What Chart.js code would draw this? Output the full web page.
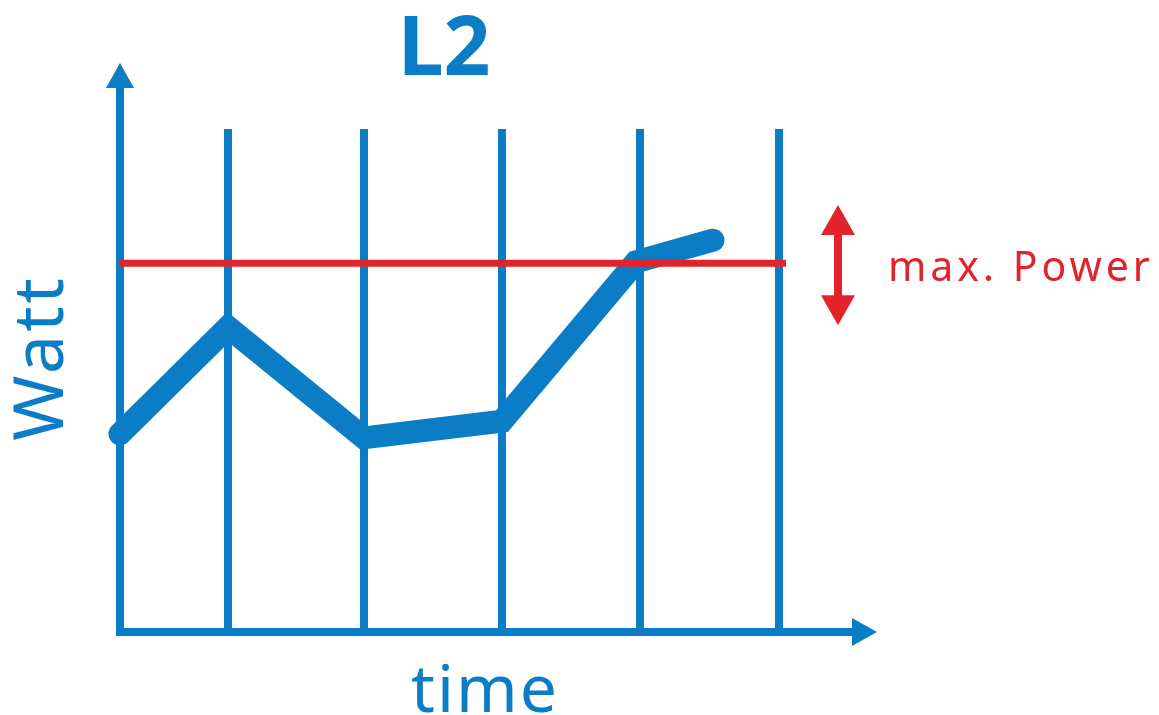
<!DOCTYPE html>
<html>
<head>
<meta charset="utf-8">
<script src="https://cdn.jsdelivr.net/npm/chart.js@4.4.1/dist/chart.umd.min.js"></script>
<style>
  html, body { margin: 0; padding: 0; background: #fff; }
</style>
</head>
<body>
<canvas id="chart" width="1159" height="715"></canvas>
<script>
const titleText = 'L2';
const xAxisLabel = 'time';
const yAxisLabel = 'Watt';
const limitLabel = 'max. Power';

// x in arbitrary time units, y in arbitrary watt units (0..100 = plot height)
const timeTicks = [0, 108, 244, 382, 520, 659];
const timeMax = 757;
const wattMax = 100;

const powerTime = [0, 108, 244, 382, 516, 593];
const powerWatt = [39.4, 60.6, 38.6, 41.9, 73.6, 77.9];

const maxPowerTime = [0, 666];
const maxPowerWatt = [73.3, 73.3];

const rangeArrowTime = 718;
const rangeArrowWatt = [61.0, 84.9];

const blue = '#0a7dc6';
const red = '#e2232b';

function tri(ctx, pts) {
    ctx.beginPath();
    ctx.moveTo(pts[0][0], pts[0][1]);
    ctx.lineTo(pts[1][0], pts[1][1]);
    ctx.lineTo(pts[2][0], pts[2][1]);
    ctx.closePath();
    ctx.fill();
}

const decorations = {
    id: 'decorations',
    beforeDatasetsDraw(chart) {
        const ctx = chart.ctx;
        const xs = chart.scales.x, ys = chart.scales.y;
        const x0 = xs.getPixelForValue(0);
        const y0 = ys.getPixelForValue(0);
        const xEnd = xs.getPixelForValue(timeMax);
        const yTop = ys.top - 66;
        ctx.save();
        ctx.fillStyle = blue;
        // y axis with arrow
        ctx.fillRect(x0 - 4, yTop + 25, 8, y0 + 4 - (yTop + 25));
        tri(ctx, [[x0, yTop], [x0 - 14, yTop + 25], [x0 + 14, yTop + 25]]);
        // x axis with arrow
        ctx.fillRect(x0 - 4, y0 - 4, xEnd - 24 - (x0 - 4), 8);
        tri(ctx, [[xEnd, y0], [xEnd - 25, y0 - 14], [xEnd - 25, y0 + 14]]);
        ctx.restore();
    },
    afterDraw(chart) {
        const ctx = chart.ctx;
        const xs = chart.scales.x, ys = chart.scales.y;
        ctx.save();
        // red double arrow
        const ax = xs.getPixelForValue(rangeArrowTime);
        const aLow = ys.getPixelForValue(rangeArrowWatt[0]);
        const aHigh = ys.getPixelForValue(rangeArrowWatt[1]);
        ctx.fillStyle = red;
        ctx.fillRect(ax - 4, aHigh + 28, 8, aLow - aHigh - 56);
        tri(ctx, [[ax, aHigh], [ax - 17, aHigh + 30], [ax + 17, aHigh + 30]]);
        tri(ctx, [[ax, aLow], [ax - 17, aLow - 30], [ax + 17, aLow - 30]]);
        // label
        ctx.font = "41px 'Noto Sans'";
        ctx.letterSpacing = '4px';
        ctx.textAlign = 'left';
        ctx.textBaseline = 'alphabetic';
        ctx.fillText(limitLabel, ax + 50, ys.getPixelForValue(maxPowerWatt[0]) + 18);

        ctx.fillStyle = blue;
        ctx.letterSpacing = '0px';
        ctx.textAlign = 'center';
        ctx.font = "bold 82px 'Noto Sans'";
        ctx.fillText(titleText, 444, 75);
        ctx.letterSpacing = '2px';
        ctx.font = "66px 'Noto Sans'";
        ctx.fillText(xAxisLabel, 485, 712);
        ctx.translate(63, 358);
        ctx.rotate(-Math.PI / 2);
        ctx.letterSpacing = '3px';
        ctx.font = "70px 'Noto Sans'";
        ctx.fillText(yAxisLabel, 0, 0);
        ctx.restore();
    }
};

const ctx = document.getElementById('chart').getContext('2d');
new Chart(ctx, {
    type: 'line',
    data: {
        datasets: [
            {
                label: 'max. Power',
                data: maxPowerTime.map((t, i) => ({ x: t, y: maxPowerWatt[i] })),
                borderColor: red,
                borderWidth: 7,
                borderCapStyle: 'butt',
                pointRadius: 0,
                order: 0
            },
            {
                label: 'Power',
                data: powerTime.map((t, i) => ({ x: t, y: powerWatt[i] })),
                borderColor: blue,
                borderWidth: 23,
                borderCapStyle: 'round',
                borderJoinStyle: 'miter',
                tension: 0,
                pointRadius: 0,
                order: 1
            }
        ]
    },
    options: {
        responsive: false,
        animation: false,
        events: [],
        clip: false,
        layout: { padding: { left: 120, top: 129, right: 282, bottom: 83 } },
        plugins: { legend: { display: false }, tooltip: { enabled: false }, title: { display: false } },
        scales: {
            x: {
                type: 'linear',
                min: 0,
                max: timeMax,
                afterBuildTicks: scale => { scale.ticks = timeTicks.map(v => ({ value: v })); },
                ticks: { display: false },
                grid: { color: blue, lineWidth: 8, drawTicks: false },
                border: { display: false }
            },
            y: {
                type: 'linear',
                min: 0,
                max: wattMax,
                display: false
            }
        }
    },
    plugins: [decorations]
});
</script>
</body>
</html>
